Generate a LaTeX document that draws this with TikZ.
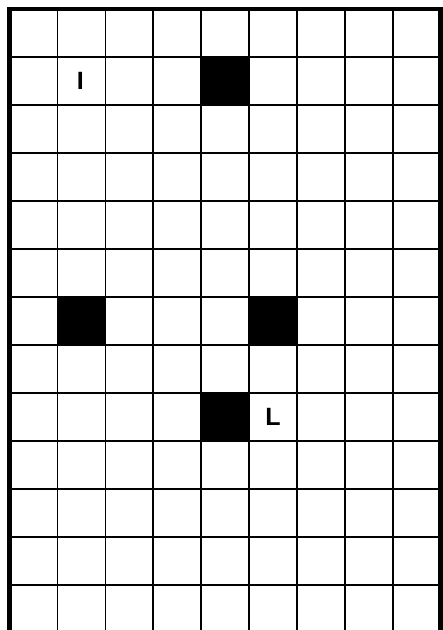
\documentclass[tikz,border=0pt]{standalone}
\usepackage{fontspec}
\setsansfont{Liberation Sans}
\tikzset{
    % Thin lines between the cells
    grid line/.style={
        draw=black,
        line width=1.6pt,
    },
    % Heavy frame on top, left and right
    frame line/.style={
        draw=black,
        line width=4.6pt,
        line join=miter,
    },
    % Blocked cells
    blocked/.style={
        fill=black,
    },
    % Letter markers inside cells
    marker/.style={
        font=\sffamily\bfseries\fontsize{25}{25}\selectfont,
        text=black,
        inner sep=0pt,
    },
}

\begin{document}
\begin{tikzpicture}[x=1pt, y=-1pt]
    \useasboundingbox (0,0) rectangle (443,630);
    \fill[white] (0,0) rectangle (443,630);

    % blocked cells (column/row)
    \foreach \c/\r in {5/2, 2/7, 6/7, 5/9}
        \fill[blocked] ({9.5+(\c-1)*47.9}, {9+(\r-1)*48}) rectangle ++(47.9,48);

    % grid
    \foreach \i in {1,...,8}
        \draw[grid line] ({9.5+\i*47.9}, 9) -- ({9.5+\i*47.9}, 630);
    \foreach \j in {1,...,12}
        \draw[grid line] (9.5, {9+\j*48}) -- (440.5, {9+\j*48});

    % frame
    \draw[frame line] (9.5,630) -- (9.5,9) -- (440.5,9) -- (440.5,630);

    % letters
    \node[marker] (letterI) at ({9.5+1.5*47.9-1}, {9+1.5*48}) {I};
    \node[marker] (letterL) at ({9.5+5.5*47.9}, {9+8.5*48}) {L};
\end{tikzpicture}
\end{document}
